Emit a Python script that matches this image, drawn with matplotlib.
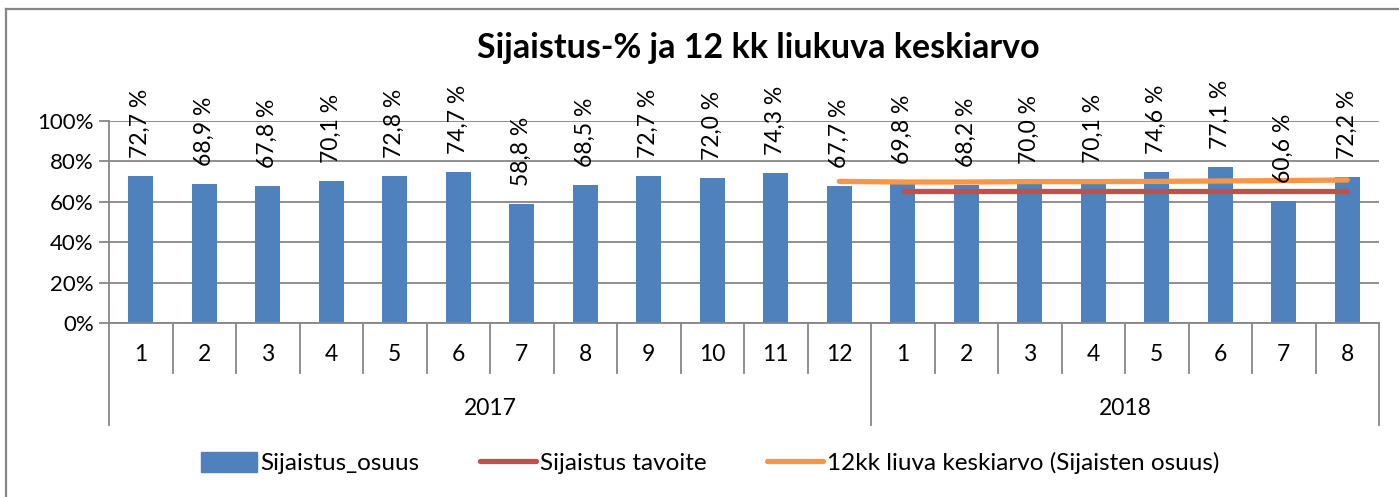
import matplotlib.pyplot as plt
from matplotlib.lines import Line2D
from matplotlib.patches import Patch

plt.rcParams['font.family'] = ['Lato', 'DejaVu Sans']

months = ['1', '2', '3', '4', '5', '6', '7', '8', '9', '10', '11', '12',
          '1', '2', '3', '4', '5', '6', '7', '8']
years = ['2017', '2018']
year_len = [12, 8]
osuus = [72.7, 68.9, 67.8, 70.1, 72.8, 74.7, 58.8, 68.5, 72.7, 72.0, 74.3, 67.7,
         69.8, 68.2, 70.0, 70.1, 74.6, 77.1, 60.6, 72.2]
# target line, 2018 only
tavoite_x = list(range(12, 20))
tavoite = [65.3, 65.3, 65.3, 65.3, 65.3, 65.3, 65.3, 65.3]
# 12 month moving average, from 2017-12
keski_x = list(range(11, 20))
keski = [70.1, 69.8, 69.8, 70.0, 70.0, 70.1, 70.3, 70.5, 70.8]

W, H = 1399, 497
fig = plt.figure(figsize=(W / 100, H / 100), dpi=100)
ax = fig.add_axes([109 / W, 1 - 323 / H, 1270 / W, 202 / H])

grid_c = '#868686'
blue, red, orange = '#4F81BD', '#C0504D', '#F79646'

x = list(range(len(osuus)))
ax.bar(x, osuus, width=0.4, color=blue, zorder=2)
ax.plot(tavoite_x, tavoite, color=red, lw=3.8, solid_capstyle='round', zorder=3)
ax.plot(keski_x, keski, color=orange, lw=3.8, solid_capstyle='round', zorder=3)

for i, v in enumerate(osuus):
    ax.annotate(f"{v:.1f} %".replace('.', ','), (i, v), xytext=(0, 13),
                textcoords='offset points', rotation=90, ha='center', va='bottom',
                fontsize=16.5, annotation_clip=False, zorder=4)

ax.set_xlim(-0.5, len(osuus) - 0.5)
ax.set_ylim(0, 100)
ax.set_yticks(range(0, 101, 20))
ax.set_yticklabels([f"{t}%" for t in range(0, 101, 20)], fontsize=16)
ax.yaxis.grid(True, color=grid_c, lw=1.3, zorder=0)
ax.tick_params(axis='y', length=7, width=1.3, color=grid_c, pad=4)
ax.set_xticks([])
for s in ['top', 'right']:
    ax.spines[s].set_visible(False)
ax.spines['left'].set_color(grid_c)
ax.spines['left'].set_linewidth(1.3)
ax.spines['bottom'].set_color(grid_c)
ax.spines['bottom'].set_linewidth(1.3)

# two-level category axis
tr = ax.get_xaxis_transform()
for i, m in enumerate(months):
    ax.text(i, -0.158, m, transform=tr, ha='center', va='center', fontsize=16.5)
bounds = [0]
for n in year_len:
    bounds.append(bounds[-1] + n)
for b in range(len(osuus) + 1):
    low = -0.505 if b in bounds else -0.2475
    ax.plot([b - 0.5, b - 0.5], [0, low], transform=tr, color=grid_c, lw=1.3,
            clip_on=False)
for k, yr in enumerate(years):
    mid = (bounds[k] + bounds[k + 1]) / 2 - 0.5
    ax.text(mid, -0.421, yr, transform=tr, ha='center', va='center', fontsize=16.5)

fig.text(758 / W, 1 - 48 / H, 'Sijaistus-% ja 12 kk liukuva keskiarvo',
         ha='center', va='center', fontsize=24.5, fontweight='bold')

handles = [Patch(color=blue, label='Sijaistus_osuus'),
           Line2D([], [], color=red, lw=3.8, solid_capstyle='round', label='Sijaistus tavoite'),
           Line2D([], [], color=orange, lw=3.8, solid_capstyle='round',
                  label='12kk liuva keskiarvo (Sijaisten osuus)')]
fig.legend(handles=handles, loc='center', bbox_to_anchor=(710 / W, 1 - 463 / H), ncol=3,
           frameon=False, fontsize=17.5, handlelength=2.3, handleheight=0.9,
           handletextpad=0.15, columnspacing=2.5)

# outer chart border
fig.add_artist(Line2D([6 / W, 6 / W], [0, 1 - 9 / H], color=grid_c, lw=1.6))
fig.add_artist(Line2D([6 / W, 1], [1 - 9 / H, 1 - 9 / H], color=grid_c, lw=1.6))

fig.savefig('out.png', dpi=100)
